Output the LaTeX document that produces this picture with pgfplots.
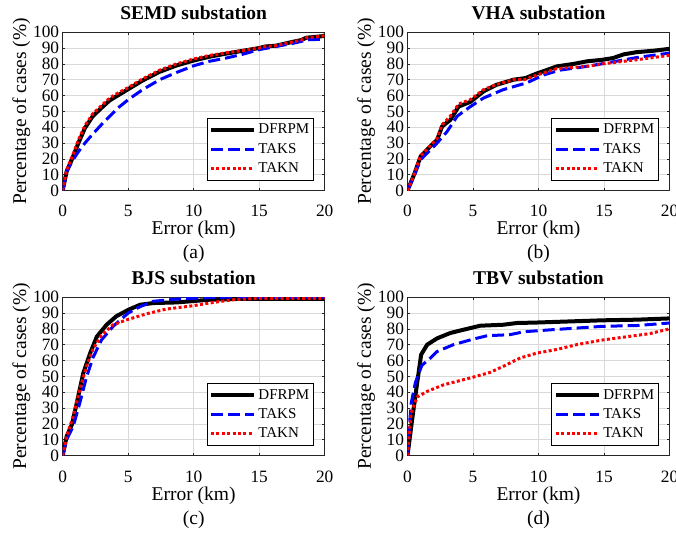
\documentclass[border=0pt]{standalone}
\usepackage{pgfplots}
\pgfplotsset{compat=1.18}
\usepackage{fontspec}
\setmainfont{Liberation Serif}
\newcommand\tickf{\fontsize{17.3}{20}\selectfont}
\newcommand\labf{\fontsize{19.5}{22}\selectfont}
\newcommand\legf{\fontsize{15}{17}\selectfont}
\pgfplotsset{
 myax/.style={
  scale only axis, width=262pt, height=158.3pt,
  xmin=0, xmax=20, ymin=0, ymax=100,
  xtick={0,5,10,15,20}, ytick={0,10,...,100},
  grid=major, major grid style={draw=black!15, line width=0.5pt},
  axis line style={draw=black!85, line width=0.6pt},
  tick align=inside, major tick length=2.5pt,
  tick style={draw=black!85, line width=0.5pt},
  /pgf/number format/assume math mode=true,
  tick label style={font=\tickf},
  xticklabel style={anchor=base, yshift=-26.5pt},
  yticklabel style={anchor=east, inner sep=0pt, xshift=-3.4pt},
  xlabel={Error (km)}, ylabel={Percentage of cases (\%)},
  label style={font=\labf},
  xlabel style={at={(axis description cs:0.5,0)}, anchor=base, yshift=-44.5pt},
  ylabel style={at={(axis description cs:-0.14,0.5)}, anchor=base},
  title style={at={(axis description cs:0.5,1)}, anchor=base, yshift=7pt, font=\labf\bfseries},
  legend style={at={(rel axis cs:1,0)}, xshift=-10.5pt, yshift=10pt, anchor=south east,
    font=\legf, draw=black, line width=0.8pt, inner sep=2pt, row sep=0pt,
    nodes={inner sep=2.5pt, text height=11pt, text depth=3.2pt}, cells={anchor=west}},
  legend image code/.code={\draw[#1] (0pt,0pt) -- (43pt,0pt);},
 },
 dfrpm/.style={black, line width=4pt, line join=round},
 taks/.style={blue, line width=3pt, dash pattern=on 12pt off 5pt, line join=round},
 takn/.style={red, line width=3pt, dash pattern=on 3pt off 2.4pt, line join=round},
}
\begin{document}
\begin{tikzpicture}
% (a)
\begin{axis}[myax, name=a, at={(62.7pt,342.5pt)}, anchor=south west, title={SEMD substation}]
\addplot[dfrpm] coordinates {(0,0)(0.3,12)(0.8,21.6)(1.2,30)(1.7,39.5)(2.3,47)(3.0,52.5)(3.6,57)(4.2,60)(5,64)(6.1,69.5)(7.4,75)(8.7,79)(9.95,82)(11.2,84.5)(12.5,86.5)(13.8,88.3)(15,90)(15.5,91)(16.3,91.5)(17.6,94)(18.2,95)(18.6,96.5)(19.85,97.5)(20,98)};
\addplot[taks] coordinates {(0,0)(0.3,12)(0.8,19.5)(1.2,24.5)(1.7,30)(2.3,35.7)(3.0,42)(3.6,47)(4.2,52)(5,57.4)(6.1,63.7)(7.4,70)(8.7,74.6)(10,78.8)(11.2,81.6)(12.5,83.7)(13.8,86.2)(15,89)(16.3,91)(17.6,93)(18.8,95.3)(20,95.5)};
\addplot[takn] coordinates {(0,0)(0.3,13)(0.8,23)(1.2,32)(1.7,41)(2.3,48.5)(3.0,54)(3.6,58.5)(4.2,61.5)(5,65)(6.1,70.5)(7.4,76)(8.7,80)(9.95,83)(11.2,85.3)(12.5,87)(13.8,88.5)(15,90)(15.5,91)(16.3,91.5)(17.6,94)(18.2,95)(18.6,96.5)(19.85,97.5)(20,98.5)};
\legend{DFRPM,TAKS,TAKN}
\end{axis}
% (b)
\begin{axis}[myax, name=b, at={(407.5pt,342.5pt)}, anchor=south west, title={VHA substation}]
\addplot[dfrpm] coordinates {(0,0)(0.5,10)(1.0,21.5)(1.75,28)(2.26,32)(2.64,40.5)(3.27,44.6)(3.9,53)(4.8,56)(5.8,62.6)(6.8,66.8)(8.1,70)(9.0,71)(9.9,74)(10.6,76)(11.4,78.4)(12.7,80)(13.7,81.6)(14.9,82.6)(15.7,83.7)(16.5,86)(17.5,87.4)(18.8,88.3)(20,89.5)};
\addplot[taks] coordinates {(0,0)(0.5,9)(1.0,19.5)(1.75,25.7)(2.26,30)(3.0,37)(3.8,47)(4.8,53)(5.8,58.4)(7.3,63.7)(9.1,68)(10.4,73)(11.6,76)(13.7,78.4)(15.5,81)(17.5,84)(20,86.8)};
\addplot[takn] coordinates {(0,0)(0.5,10)(1.0,22)(1.75,28.4)(2.26,33)(2.64,41.5)(3.27,47)(3.9,54.6)(4.8,57.4)(5.8,63.7)(6.8,67)(8.1,70)(8.9,70)(9.9,73)(11.4,77)(13.7,78.4)(14.9,80)(17.5,82.6)(20,85.4)};
\legend{DFRPM,TAKS,TAKN}
\end{axis}
% (c)
\begin{axis}[myax, name=c, at={(62.7pt,77.5pt)}, anchor=south west, title={BJS substation}]
\addplot[dfrpm] coordinates {(0,0)(0.3,12)(0.7,19.5)(1.07,33)(1.57,52)(2.1,64.7)(2.6,75)(3.35,82.6)(4.1,88)(5,92)(5.9,95.2)(6.9,96.3)(8.7,96.7)(11.2,98.4)(13.8,99)(20,99)};
\addplot[taks] coordinates {(0,0)(0.3,10)(0.8,18.4)(1.3,33)(1.8,49)(2.3,61.6)(2.96,73)(3.85,81.6)(5,90)(5.9,94)(6.9,97.4)(8.7,98.8)(11.2,99.7)(12.5,100)(20,100)};
\addplot[takn] coordinates {(0,0)(0.3,12)(0.8,24.7)(1.3,41.5)(1.8,56)(2.3,67)(2.96,76)(3.85,82.6)(5,86)(6.4,89.5)(7.9,92.5)(9.95,94.6)(11.5,96.7)(13,98.4)(15,99.3)(20,99.3)};
\legend{DFRPM,TAKS,TAKN}
\end{axis}
% (d)
\begin{axis}[myax, name=d, at={(407.5pt,77.5pt)}, anchor=south west, title={TBV substation}]
\addplot[dfrpm] coordinates {(0,0)(0.35,22.5)(0.74,46)(1.04,63.7)(1.5,70)(2.26,74)(3.27,77.4)(4.3,79.5)(5.56,82)(7.3,82.6)(8.35,83.7)(9.87,84)(12.4,84.7)(14.9,85.4)(17.5,85.8)(20,86.6)};
\addplot[taks] coordinates {(0,0)(0.1,14)(0.28,33)(0.6,46)(1.1,57)(1.75,61.6)(2.26,65.7)(3.5,70)(5.05,73.6)(6.1,75.7)(7.8,76.3)(8.9,78.2)(11.1,79.5)(12.9,80.5)(14.9,81.6)(17.5,82.1)(20,83.7)};
\addplot[takn] coordinates {(0,0)(0.1,10)(0.28,27)(0.74,37)(1.5,40.5)(2.77,44.7)(4.8,49)(6.3,52.5)(7.3,56.3)(8.6,61.6)(9.87,64.7)(11.4,67)(12.9,70)(14.9,73)(17,75.3)(18.5,77)(20,80)};
\legend{DFRPM,TAKS,TAKN}
\end{axis}
\node[font=\labf, anchor=base] at ([yshift=-68.5pt]a.south) {(a)};
\node[font=\labf, anchor=base] at ([yshift=-68.5pt]b.south) {(b)};
\node[font=\labf, anchor=base] at ([yshift=-68.5pt]c.south) {(c)};
\node[font=\labf, anchor=base] at ([yshift=-68.5pt]d.south) {(d)};
\pgfresetboundingbox
\useasboundingbox (0,0) rectangle (676pt,533pt);
\end{tikzpicture}
\end{document}
